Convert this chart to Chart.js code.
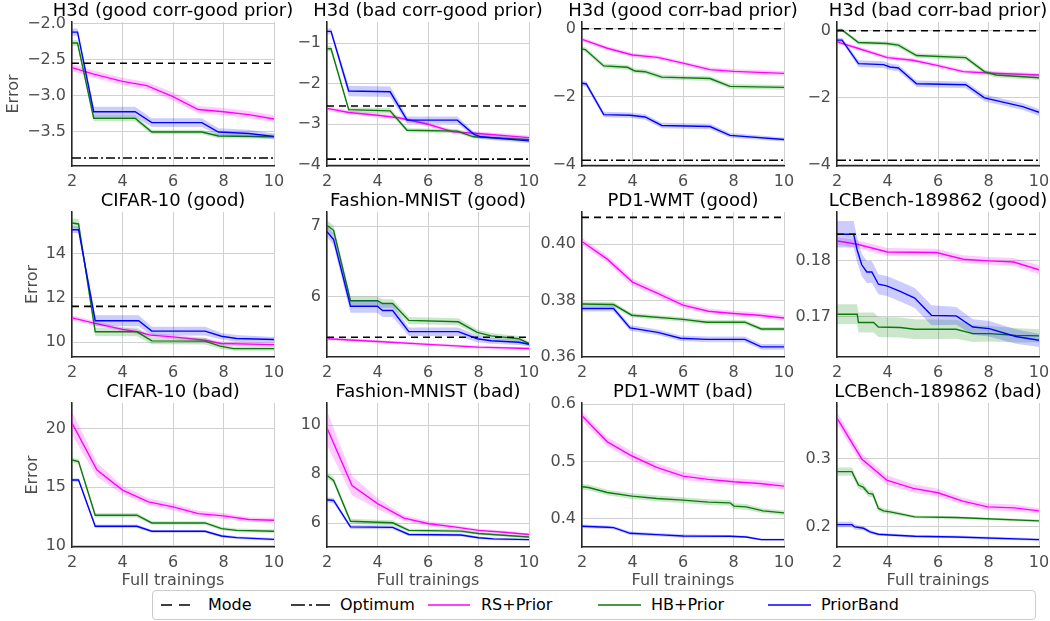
<!DOCTYPE html>
<html>
<head>
<meta charset="utf-8">
<script src="https://cdn.jsdelivr.net/npm/chart.js@4.4.1/dist/chart.umd.min.js"></script>
<style>
  html, body { margin: 0; padding: 0; background: #ffffff; }
  body { width: 1050px; height: 621px; position: relative; overflow: hidden; font-family: 'DejaVu Sans', sans-serif; }
  canvas { position: absolute; }
  #legend { position: absolute; left: 152px; top: 590px; width: 882px; height: 28px; border: 1px solid #cccccc; border-radius: 4px; background: #fff; }
  .lt { position: absolute; top: 0; height: 28px; line-height: 28px; font-size: 16px; color: #000; white-space: nowrap; }
  .ls { position: absolute; top: 9px; }
</style>
</head>
<body>
<div id="legend">
  <svg class="ls" style="left:8px" width="36" height="10"><line x1="0" y1="5" x2="36" y2="5" stroke="#000" stroke-width="1.6" stroke-dasharray="11 7"/></svg>
  <span class="lt" style="left:55px">Mode</span>
  <svg class="ls" style="left:138px" width="40" height="10"><line x1="0" y1="5" x2="40" y2="5" stroke="#000" stroke-width="1.6" stroke-dasharray="14 4 3 4"/></svg>
  <span class="lt" style="left:187px">Optimum</span>
  <svg class="ls" style="left:275px" width="42" height="10"><line x1="0" y1="5" x2="42" y2="5" stroke="#ff00ff" stroke-width="1.6"/></svg>
  <span class="lt" style="left:328px">RS+Prior</span>
  <svg class="ls" style="left:445px" width="43" height="10"><line x1="0" y1="5" x2="43" y2="5" stroke="#0a7a0a" stroke-width="1.6"/></svg>
  <span class="lt" style="left:498px">HB+Prior</span>
  <svg class="ls" style="left:615px" width="43" height="10"><line x1="0" y1="5" x2="43" y2="5" stroke="#0000ff" stroke-width="1.6"/></svg>
  <span class="lt" style="left:668px">PriorBand</span>
</div>
<script>
// ---------------- DATA ----------------
const TITLES = [
  'H3d (good corr-good prior)', 'H3d (bad corr-good prior)', 'H3d (good corr-bad prior)', 'H3d (bad corr-bad prior)',
  'CIFAR-10 (good)', 'Fashion-MNIST (good)', 'PD1-WMT (good)', 'LCBench-189862 (good)',
  'CIFAR-10 (bad)', 'Fashion-MNIST (bad)', 'PD1-WMT (bad)', 'LCBench-189862 (bad)'
];
const X_TICKS = [2, 4, 6, 8, 10];
const Y_TICKS = [
  [-3.5, -3.0, -2.5, -2.0], [-4, -3, -2, -1], [-4, -2, 0], [-4, -2, 0],
  [10, 12, 14], [6, 7], [0.36, 0.38, 0.40], [0.17, 0.18],
  [10, 15, 20], [6, 8, 10], [0.4, 0.5, 0.6], [0.2, 0.3]
];
const Y_DECIMALS = [1, 0, 0, 0, 0, 0, 2, 2, 0, 0, 1, 1];
const Y_MIN = [-3.97, -4.03, -4.03, -4.03, 9.33, 5.14, 0.3598, 0.1627, 9.89, 5.02, 0.351, 0.1706];
const Y_MAX = [-1.98, -0.48, 0.20, 0.26, 15.89, 7.20, 0.4115, 0.1888, 22.17, 10.90, 0.602, 0.3814];
const MODE_VALUES = [-2.55, -2.55, 0, 0, 11.62, 5.42, 0.4096, 0.1848, null, null, null, null];
const OPTIMUM_VALUES = [-3.86, -3.86, -3.86, -3.86, null, null, null, null, null, null, null, null];

// each entry: [full trainings, mean error, band half-width]
const H3D_GG_RS = [[2,-2.61,0.05],[2.86,-2.70,0.05],[4,-2.80,0.05],[4.96,-2.86,0.05],[6,-3.01,0.06],[7,-3.19,0.05],[8,-3.22,0.05],[9,-3.26,0.05],[10,-3.32,0.05]];
const H3D_GG_HB = [[2,-2.27,0.04],[2.22,-2.27,0.04],[2.86,-3.31,0.04],[4.5,-3.31,0.04],[5.16,-3.50,0.03],[7.14,-3.50,0.03],[7.8,-3.555,0.03],[10,-3.565,0.03]];
const H3D_GG_PB = [[2,-2.12,0.05],[2.22,-2.12,0.05],[2.86,-3.22,0.07],[4.5,-3.22,0.07],[5.16,-3.37,0.06],[7.14,-3.37,0.06],[7.8,-3.50,0.05],[9,-3.52,0.05],[10,-3.56,0.04]];

const H3D_BG_RS = [[2,-2.61,0.06],[2.86,-2.71,0.05],[4,-2.78,0.05],[4.84,-2.84,0.05],[6,-3.0,0.05],[7,-3.19,0.05],[8,-3.23,0.05],[10,-3.33,0.05]];
const H3D_BG_HB = [[2,-1.14,0.07],[2.16,-1.14,0.07],[2.86,-2.64,0.06],[4.5,-2.67,0.07],[5.17,-3.15,0.05],[7.16,-3.17,0.05],[7.8,-3.31,0.04],[10,-3.38,0.04]];
const H3D_BG_PB = [[2,-0.71,0.07],[2.16,-0.71,0.07],[2.86,-2.18,0.13],[4.5,-2.20,0.13],[5.17,-2.90,0.09],[7.16,-2.90,0.09],[7.82,-3.25,0.06],[8.1,-3.31,0.06],[10,-3.41,0.05]];

const H3D_GB_RS = [[2,-0.31,0.06],[3,-0.57,0.06],[4,-0.77,0.06],[5,-0.84,0.06],[6,-1.01,0.06],[7.07,-1.2,0.07],[8,-1.25,0.07],[10,-1.31,0.07]];
const H3D_GB_HB = [[2,-0.59,0.07],[2.13,-0.61,0.07],[2.86,-1.09,0.07],[3.8,-1.13,0.07],[4.1,-1.24,0.07],[4.5,-1.26,0.07],[5.16,-1.42,0.07],[7.07,-1.46,0.07],[7.86,-1.69,0.07],[10,-1.72,0.07]];
const H3D_GB_PB = [[2,-1.60,0.08],[2.17,-1.62,0.08],[2.86,-2.52,0.08],[3.9,-2.54,0.08],[4.5,-2.59,0.08],[5.16,-2.84,0.08],[7.07,-2.87,0.08],[7.86,-3.13,0.07],[10,-3.25,0.06]];

const H3D_BB_RS = [[2,-0.33,0.05],[2.85,-0.53,0.06],[4,-0.80,0.06],[5,-0.88,0.06],[6,-1.04,0.06],[7,-1.22,0.06],[8,-1.26,0.06],[10,-1.32,0.06]];
const H3D_BB_HB = [[2,0.02,0.05],[2.2,0.02,0.05],[2.85,-0.35,0.06],[3.97,-0.38,0.06],[4.43,-0.43,0.07],[5.15,-0.74,0.07],[7.1,-0.80,0.07],[7.84,-1.22,0.07],[8.3,-1.32,0.07],[10,-1.40,0.07]];
const H3D_BB_PB = [[2,-0.28,0.06],[2.2,-0.28,0.06],[2.85,-0.98,0.1],[3.84,-1.01,0.1],[4.1,-1.08,0.1],[4.43,-1.11,0.1],[5.15,-1.58,0.1],[7.1,-1.61,0.1],[7.84,-2.0,0.1],[9.35,-2.26,0.1],[10,-2.43,0.1]];

const CIFAR_G_RS = [[2,11.1,0.12],[2.92,10.85,0.1],[4,10.58,0.1],[4.6,10.47,0.1],[5.1,10.32,0.1],[6,10.24,0.1],[7.27,10.09,0.1],[7.9,9.94,0.1],[10,9.89,0.1]];
const CIFAR_G_HB = [[2,15.39,0.22],[2.26,15.35,0.22],[2.92,10.47,0.2],[4.57,10.47,0.2],[5.16,10.06,0.15],[7.27,10.05,0.15],[7.86,9.82,0.12],[8.4,9.71,0.1],[10,9.71,0.1]];
const CIFAR_G_PB = [[2,15.09,0.15],[2.26,15.09,0.15],[2.92,10.97,0.25],[4.64,10.97,0.25],[5.16,10.5,0.2],[7.27,10.5,0.2],[7.92,10.27,0.15],[8.52,10.17,0.15],[10,10.12,0.12]];

const FMNIST_G_RS = [[2,5.40,0.02],[4,5.36,0.02],[6,5.32,0.02],[8,5.28,0.02],[10,5.26,0.02]];
const FMNIST_G_HB = [[2,7.01,0.07],[2.26,6.94,0.07],[2.93,5.94,0.06],[4,5.94,0.06],[4.2,5.90,0.06],[4.6,5.90,0.06],[5.24,5.66,0.05],[7.2,5.64,0.05],[7.95,5.49,0.04],[8.5,5.44,0.04],[9.6,5.40,0.04],[10,5.33,0.03]];
const FMNIST_G_PB = [[2,6.92,0.08],[2.26,6.81,0.08],[2.93,5.86,0.09],[4,5.86,0.09],[4.2,5.80,0.09],[4.6,5.80,0.09],[5.24,5.50,0.06],[7.2,5.50,0.06],[7.95,5.40,0.05],[8.5,5.37,0.04],[9.6,5.35,0.04],[10,5.32,0.03]];

const PD1_G_RS = [[2,0.401,0.0013],[3,0.3947,0.0013],[4,0.3865,0.0013],[5,0.3825,0.0012],[6,0.3783,0.0011],[7,0.3761,0.001],[8,0.3753,0.001],[9,0.3747,0.001],[10,0.3737,0.001]];
const PD1_G_HB = [[2,0.3787,0.0009],[3.25,0.3785,0.0009],[3.97,0.3747,0.0008],[6,0.3732,0.0008],[6.94,0.3722,0.0008],[8.45,0.3722,0.0008],[9.1,0.3698,0.0007],[10,0.3698,0.0007]];
const PD1_G_PB = [[2,0.3771,0.0011],[3.25,0.3771,0.0011],[3.9,0.3702,0.001],[5,0.3686,0.001],[5.9,0.3665,0.001],[6.94,0.3661,0.001],[8.45,0.3661,0.001],[9.1,0.3634,0.001],[10,0.3634,0.001]];

const LCB_G_RS = [[2,0.1836,0.0007],[2.8,0.1830,0.0007],[4,0.1816,0.0007],[5.93,0.1815,0.0007],[7,0.1803,0.0007],[8,0.1800,0.0007],[9,0.1798,0.0007],[10,0.1784,0.0008]];
const LCB_G_HB = [[2,0.1704,0.0018],[2.8,0.1704,0.0018],[2.85,0.1689,0.0018],[3.45,0.1689,0.0018],[3.64,0.1681,0.0018],[4.5,0.1680,0.0018],[5.08,0.1677,0.0018],[6.72,0.1677,0.0017],[7.38,0.1669,0.0015],[8.03,0.1669,0.0014],[9.08,0.1666,0.0013],[10,0.1665,0.0012]];
const LCB_G_PB = [[2,0.1848,0.0024],[2.66,0.1848,0.0024],[2.8,0.1819,0.0022],[2.98,0.1793,0.002],[3.18,0.1780,0.002],[3.38,0.1780,0.002],[3.64,0.1758,0.0018],[3.97,0.1755,0.0018],[4.5,0.1745,0.0018],[5.08,0.1733,0.0018],[5.74,0.1702,0.0018],[6.72,0.1701,0.0016],[7.38,0.1681,0.0014],[8.03,0.1678,0.0014],[9.08,0.1664,0.0013],[10,0.1657,0.0012]];

const CIFAR_B_RS = [[2,20.46,1.0],[2.99,16.46,0.6],[4,14.74,0.35],[5.03,13.74,0.3],[6,13.31,0.3],[7,12.74,0.25],[8,12.54,0.25],[9,12.23,0.2],[10,12.17,0.2]];
const CIFAR_B_HB = [[2,17.31,0.2],[2.26,17.17,0.2],[2.92,12.6,0.2],[4.57,12.6,0.2],[5.16,11.94,0.15],[7.27,11.94,0.15],[7.92,11.46,0.15],[8.52,11.31,0.15],[10,11.23,0.15]];
const CIFAR_B_PB = [[2,15.6,0.15],[2.26,15.6,0.15],[2.92,11.66,0.15],[4.57,11.66,0.15],[5.16,11.23,0.12],[7.27,11.23,0.12],[7.92,10.83,0.12],[8.52,10.69,0.12],[10,10.54,0.12]];

const FMNIST_B_RS = [[2,9.88,0.7],[2.99,7.53,0.4],[4,6.79,0.22],[5.05,6.2,0.12],[6.03,5.97,0.1],[7.03,5.84,0.08],[8,5.70,0.07],[9,5.62,0.06],[10,5.53,0.05]];
const FMNIST_B_HB = [[2,7.94,0.12],[2.26,7.74,0.12],[2.93,6.07,0.1],[4,6.03,0.1],[4.6,6.01,0.1],[5.24,5.70,0.07],[7.3,5.67,0.07],[8,5.57,0.06],[10,5.43,0.05]];
const FMNIST_B_PB = [[2,6.95,0.1],[2.26,6.92,0.1],[2.93,5.84,0.08],[4.6,5.82,0.08],[5.24,5.53,0.06],[7.3,5.51,0.06],[8,5.40,0.05],[8.6,5.35,0.05],[10,5.32,0.04]];

const PD1_B_RS = [[2,0.5796,0.008],[2.99,0.5347,0.008],[3.98,0.5096,0.008],[4.96,0.4898,0.007],[6,0.4746,0.007],[7,0.4688,0.006],[8,0.4647,0.006],[9.04,0.4618,0.006],[10,0.4571,0.006]];
const PD1_B_HB = [[2,0.456,0.005],[2.26,0.4548,0.005],[3,0.446,0.005],[3.98,0.4397,0.005],[4.96,0.4356,0.005],[6,0.4327,0.005],[7,0.4292,0.005],[7.86,0.428,0.005],[8.02,0.4222,0.005],[8.5,0.421,0.005],[9.17,0.414,0.004],[10,0.4105,0.004]];
const PD1_B_PB = [[2,0.3872,0.003],[3,0.3854,0.003],[3.25,0.3848,0.003],[3.91,0.3749,0.003],[4.96,0.3726,0.003],[6,0.3703,0.003],[7.86,0.3697,0.002],[8.5,0.3685,0.002],[9.1,0.3638,0.002],[10,0.3638,0.002]];

const LCB_B_RS = [[2,0.3593,0.009],[2.98,0.2995,0.008],[3.97,0.2686,0.007],[5.02,0.2564,0.006],[6,0.25,0.006],[6.98,0.2377,0.005],[7.97,0.2294,0.005],[9.02,0.2279,0.005],[10,0.2235,0.004]];
const LCB_B_HB = [[2,0.2809,0.006],[2.59,0.2809,0.006],[2.85,0.2613,0.005],[3.05,0.2578,0.005],[3.25,0.249,0.005],[3.42,0.248,0.005],[3.64,0.227,0.004],[3.84,0.2235,0.004],[4.1,0.222,0.003],[5.08,0.2147,0.002],[6.72,0.2137,0.002],[10,0.2088,0.002]];
const LCB_B_PB = [[2,0.2034,0.004],[2.59,0.2034,0.004],[2.7,0.200,0.004],[3.05,0.198,0.003],[3.31,0.1926,0.003],[3.64,0.1892,0.002],[4.1,0.1882,0.002],[5.08,0.1863,0.002],[6.72,0.1853,0.002],[10,0.1814,0.002]];

const PANEL_SERIES = [
  [H3D_GG_RS, H3D_GG_HB, H3D_GG_PB], [H3D_BG_RS, H3D_BG_HB, H3D_BG_PB],
  [H3D_GB_RS, H3D_GB_HB, H3D_GB_PB], [H3D_BB_RS, H3D_BB_HB, H3D_BB_PB],
  [CIFAR_G_RS, CIFAR_G_HB, CIFAR_G_PB], [FMNIST_G_RS, FMNIST_G_HB, FMNIST_G_PB],
  [PD1_G_RS, PD1_G_HB, PD1_G_PB], [LCB_G_RS, LCB_G_HB, LCB_G_PB],
  [CIFAR_B_RS, CIFAR_B_HB, CIFAR_B_PB], [FMNIST_B_RS, FMNIST_B_HB, FMNIST_B_PB],
  [PD1_B_RS, PD1_B_HB, PD1_B_PB], [LCB_B_RS, LCB_B_HB, LCB_B_PB]
];
const SERIES_NAMES = ['RS+Prior', 'HB+Prior', 'PriorBand'];

// ---------------- STYLE / LAYOUT ----------------
const LINE_COLORS = ['#ff00ff', '#0a7a0a', '#0000ff'];
const BAND_COLORS = ['rgba(255,0,255,0.2)', 'rgba(0,128,0,0.2)', 'rgba(0,0,255,0.2)'];
const PLOT_L = [72, 327, 582, 837];
const PLOT_T = [22, 212, 403];
const PLOT_H = [144, 145, 144];
const PLOT_W = 202;
const YW = 70;
const TITLE_H = 22;
const XH = [26, 26, 52];
const FONT = "'DejaVu Sans', sans-serif";
const TICK_COLOR = '#4d4d4d';
const GRID_COLOR = '#d0d0d0';

function fmt(v, d) {
  return v.toFixed(d).replace('-', '\u2212');
}

function makeChart(p) {
  const c = p % 4, r = Math.floor(p / 4);
  const canvas = document.createElement('canvas');
  const W = YW * 2 + PLOT_W;
  const H = TITLE_H + PLOT_H[r] + XH[r];
  canvas.width = W; canvas.height = H;
  canvas.style.width = W + 'px'; canvas.style.height = H + 'px';
  canvas.style.left = (PLOT_L[c] - YW) + 'px';
  canvas.style.top = (PLOT_T[r] - TITLE_H) + 'px';
  document.body.appendChild(canvas);

  const datasets = [];
  const bandOrder = [9, 7, 5];
  const lineOrder = [8, 6, 4];
  PANEL_SERIES[p].forEach((ser, s) => {
    datasets.push({
      label: SERIES_NAMES[s] + ' low',
      data: ser.map(t => ({ x: t[0], y: t[1] - t[2] })),
      borderWidth: 0, borderColor: 'rgba(0,0,0,0)', pointRadius: 0, fill: false, order: bandOrder[s]
    });
    datasets.push({
      label: SERIES_NAMES[s] + ' high',
      data: ser.map(t => ({ x: t[0], y: t[1] + t[2] })),
      borderWidth: 0, borderColor: 'rgba(0,0,0,0)', pointRadius: 0,
      fill: '-1', backgroundColor: BAND_COLORS[s], order: bandOrder[s]
    });
    datasets.push({
      label: SERIES_NAMES[s],
      data: ser.map(t => ({ x: t[0], y: t[1] })),
      borderColor: LINE_COLORS[s], borderWidth: 1.4, pointRadius: 0, fill: false, order: lineOrder[s]
    });
  });
  if (MODE_VALUES[p] !== null) {
    datasets.push({
      label: 'Mode',
      data: [{ x: X_TICKS[0], y: MODE_VALUES[p] }, { x: X_TICKS[X_TICKS.length - 1], y: MODE_VALUES[p] }],
      borderColor: '#000', borderWidth: 1.6, borderDash: [7, 5], pointRadius: 0, fill: false, order: 2
    });
  }
  if (OPTIMUM_VALUES[p] !== null) {
    datasets.push({
      label: 'Optimum',
      data: [{ x: X_TICKS[0], y: OPTIMUM_VALUES[p] }, { x: X_TICKS[X_TICKS.length - 1], y: OPTIMUM_VALUES[p] }],
      borderColor: '#000', borderWidth: 1.6, borderDash: [9, 3, 2, 3], pointRadius: 0, fill: false, order: 2
    });
  }

  new Chart(canvas, {
    type: 'line',
    data: { datasets },
    options: {
      responsive: false,
      animation: false,
      devicePixelRatio: 1,
      layout: { padding: 0 },
      elements: { line: { tension: 0 }, point: { radius: 0 } },
      plugins: {
        legend: { display: false },
        tooltip: { enabled: false },
        title: {
          display: true, text: TITLES[p], color: '#000',
          font: { family: FONT, size: 18, weight: 'normal', lineHeight: 22 / 18 },
          padding: { top: 0, bottom: 0 }
        }
      },
      scales: {
        x: {
          type: 'linear', min: X_TICKS[0], max: X_TICKS[X_TICKS.length - 1],
          afterBuildTicks: (sc) => { sc.ticks = X_TICKS.map(v => ({ value: v })); },
          afterFit: (sc) => { sc.height = XH[r]; },
          ticks: { color: TICK_COLOR, font: { family: FONT, size: 16 }, padding: 6, maxRotation: 0, autoSkip: false,
                   callback: (v) => String(v) },
          grid: { color: GRID_COLOR, lineWidth: 1, drawTicks: false },
          border: { display: true, color: '#262626', width: 1.5 },
          title: { display: r === 2, text: 'Full trainings', color: TICK_COLOR,
                   font: { family: FONT, size: 16 }, padding: { top: 0, bottom: 9 } }
        },
        y: {
          type: 'linear', position: 'left', min: Y_MIN[p], max: Y_MAX[p],
          afterBuildTicks: (sc) => { sc.ticks = Y_TICKS[p].map(v => ({ value: v })); },
          afterFit: (sc) => { sc.width = YW; },
          ticks: { color: TICK_COLOR, font: { family: FONT, size: 16 }, padding: 6, autoSkip: false,
                   callback: (v) => fmt(v, Y_DECIMALS[p]) },
          grid: { color: GRID_COLOR, lineWidth: 1, drawTicks: false },
          border: { display: true, color: '#262626', width: 1.5 },
          title: { display: c === 0, text: 'Error', color: TICK_COLOR,
                   font: { family: FONT, size: 16 }, padding: { top: r === 0 ? 2 : 21, bottom: 0 } }
        },
        yRight: {
          type: 'linear', position: 'right', display: true,
          afterFit: (sc) => { sc.width = YW; },
          ticks: { display: false },
          grid: { display: false, drawTicks: false },
          border: { display: false }
        }
      }
    }
  });
}

for (let p = 0; p < 12; p++) makeChart(p);
</script>
</body>
</html>
